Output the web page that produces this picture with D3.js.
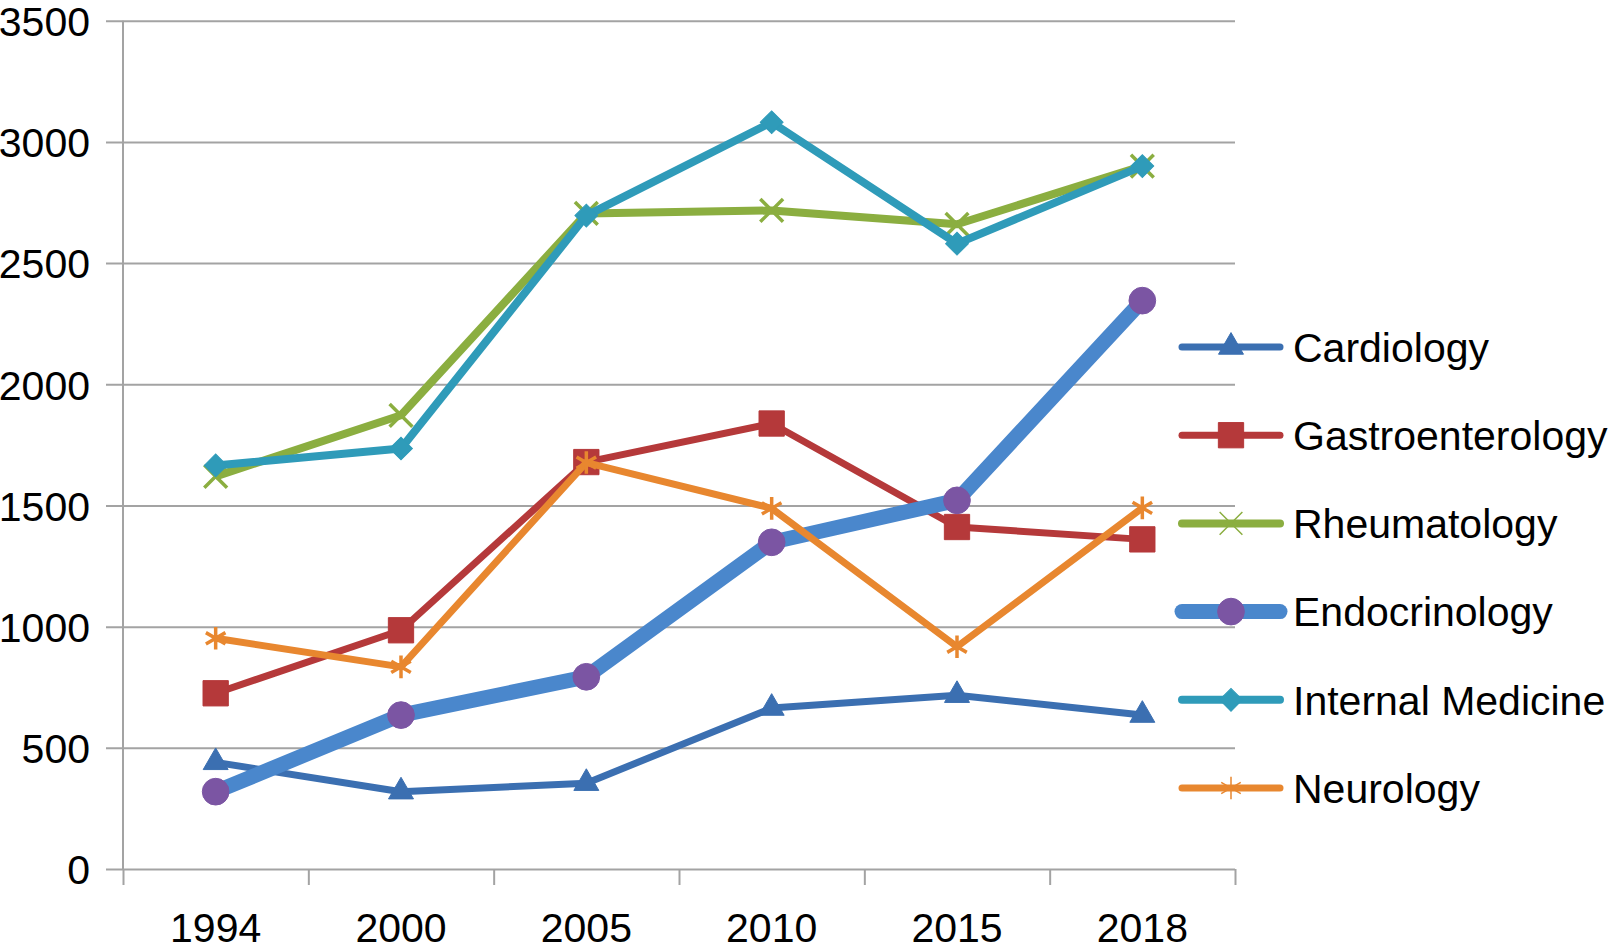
<!DOCTYPE html>
<html>
<head>
<meta charset="utf-8">
<script src="https://cdn.jsdelivr.net/npm/d3@7"></script>
<style>
  body { margin: 0; background: #fff; }
  svg text { font-family: "Liberation Sans", Arial, Helvetica, sans-serif; fill: #000; }
</style>
</head>
<body>
<div id="chart"></div>
<script>
// chart data
let years = ["1994", "2000", "2005", "2010", "2015", "2018"];
let yTicks = [0, 500, 1000, 1500, 2000, 2500, 3000, 3500];

let cardiology = [440, 319, 354, 664, 717, 635];
let gastroenterology = [725, 985, 1679, 1838, 1411, 1360];
let rheumatology = [1620, 1872, 2705, 2717, 2660, 2900];
let endocrinology = [319, 635, 793, 1348, 1521, 2345];
let internalMedicine = [1665, 1735, 2696, 3081, 2580, 2900];
let neurology = [952, 834, 1677, 1488, 917, 1490];

let seriesNames = ["Cardiology", "Gastroenterology", "Rheumatology", "Endocrinology", "Internal Medicine", "Neurology"];

let svgWidth = 1611;
let svgHeight = 950;

let plotLeft = 123, plotRight = 1235, plotTop = 20.7, plotBottom = 869;

let series = [
  { name: seriesNames[0], values: cardiology, line: "#3b6fb1", mark: "#3b6fb1", width: 7, symbol: d3.symbolTriangle, size: 270, fill: true },
  { name: seriesNames[1], values: gastroenterology, line: "#b5393a", mark: "#b5393a", width: 7, symbol: d3.symbolSquare, size: 640, fill: true },
  { name: seriesNames[2], values: rheumatology, line: "#8bae40", mark: "#8bae40", width: 8, symbol: d3.symbolTimes, size: 340, fill: false },
  { name: seriesNames[3], values: endocrinology, line: "#4a87cc", mark: "#7b55a3", width: 15, symbol: d3.symbolCircle, size: 560, fill: true },
  { name: seriesNames[4], values: internalMedicine, line: "#2f9bb9", mark: "#2f9bb9", width: 8, symbol: d3.symbolSquare, size: 260, fill: true, rotate: 45 },
  { name: seriesNames[5], values: neurology, line: "#e8872f", mark: "#e8872f", width: 7, symbol: d3.symbolAsterisk, size: 360, fill: false }
];

let svg = d3.select("#chart")
  .append("svg")
  .attr("width", svgWidth)
  .attr("height", svgHeight);

let x = d3.scaleBand().domain(years).range([plotLeft, plotRight]);
let xBound = d3.scaleLinear().domain([0, years.length]).range([plotLeft, plotRight]);
let y = d3.scaleLinear().domain([0, 3500]).range([plotBottom, plotTop]);

let cx = function(d) { return x(d) + x.bandwidth() / 2; };

// gridlines + y labels
let yAxis = svg.append("g")
  .attr("transform", "translate(" + plotRight + ",0)")
  .call(d3.axisLeft(y).tickValues(yTicks).tickFormat(d3.format("d")).tickSize(plotRight - 106).tickPadding(16));
yAxis.select(".domain").remove();
yAxis.selectAll("line").attr("stroke", "#a3a3a3").attr("stroke-width", 2);
yAxis.selectAll("text").attr("font-size", 41).attr("dy", "0.36em");

// vertical axis line
svg.append("line")
  .attr("x1", plotLeft).attr("x2", plotLeft)
  .attr("y1", plotTop).attr("y2", plotBottom)
  .attr("stroke", "#a3a3a3")
  .attr("stroke-width", 2);

// category boundary ticks
let xTickAxis = svg.append("g")
  .attr("transform", "translate(0," + plotBottom + ")")
  .call(d3.axisBottom(xBound).ticks(years.length).tickSize(16).tickFormat(""));
xTickAxis.select(".domain").remove();
xTickAxis.selectAll("line").attr("stroke", "#a3a3a3").attr("stroke-width", 2);

// year labels
let xAxis = svg.append("g")
  .attr("transform", "translate(0," + plotBottom + ")")
  .call(d3.axisBottom(x).tickSize(0).tickPadding(44));
xAxis.select(".domain").remove();
xAxis.selectAll("text").attr("font-size", 41);

let line = d3.line()
  .x(function(d, i) { return cx(years[i]); })
  .y(function(d) { return y(d); });

function marker(sel, s, sw) {
  sel.attr("d", d3.symbol().type(s.symbol).size(s.size))
    .attr("fill", s.fill ? s.mark : "none")
    .attr("stroke", s.mark)
    .attr("stroke-width", s.fill ? 1 : sw);
}

series.forEach(function(s) {
  let g = svg.append("g");
  g.append("path")
    .datum(s.values)
    .attr("d", line)
    .attr("fill", "none")
    .attr("stroke", s.line)
    .attr("stroke-width", s.width)
    .attr("stroke-linejoin", "round");

  g.selectAll("path.mark")
    .data(s.values)
    .enter()
    .append("path")
    .attr("class", "mark")
    .attr("transform", function(d, i) {
      return "translate(" + cx(years[i]) + "," + y(d) + ")" + (s.rotate ? " rotate(" + s.rotate + ")" : "");
    })
    .call(marker, s, 3.5);
});

// legend
let legendY = d3.scalePoint().domain(seriesNames).range([347, 788]);

let legend = svg.append("g")
  .selectAll("g")
  .data(series)
  .enter()
  .append("g")
  .attr("transform", function(d) { return "translate(1182," + legendY(d.name) + ")"; });

legend.append("line")
  .attr("x1", 0).attr("x2", 98)
  .attr("stroke", function(d) { return d.line; })
  .attr("stroke-width", function(d) { return d.width; })
  .attr("stroke-linecap", "round");

legend.append("path")
  .attr("transform", function(d) { return "translate(49,0)" + (d.rotate ? " rotate(" + d.rotate + ")" : ""); })
  .each(function(d) { d3.select(this).call(marker, d, 1.5); });

legend.append("text")
  .attr("x", 111)
  .attr("dy", "0.36em")
  .attr("font-size", 41)
  .text(function(d) { return d.name; });
</script>
</body>
</html>
